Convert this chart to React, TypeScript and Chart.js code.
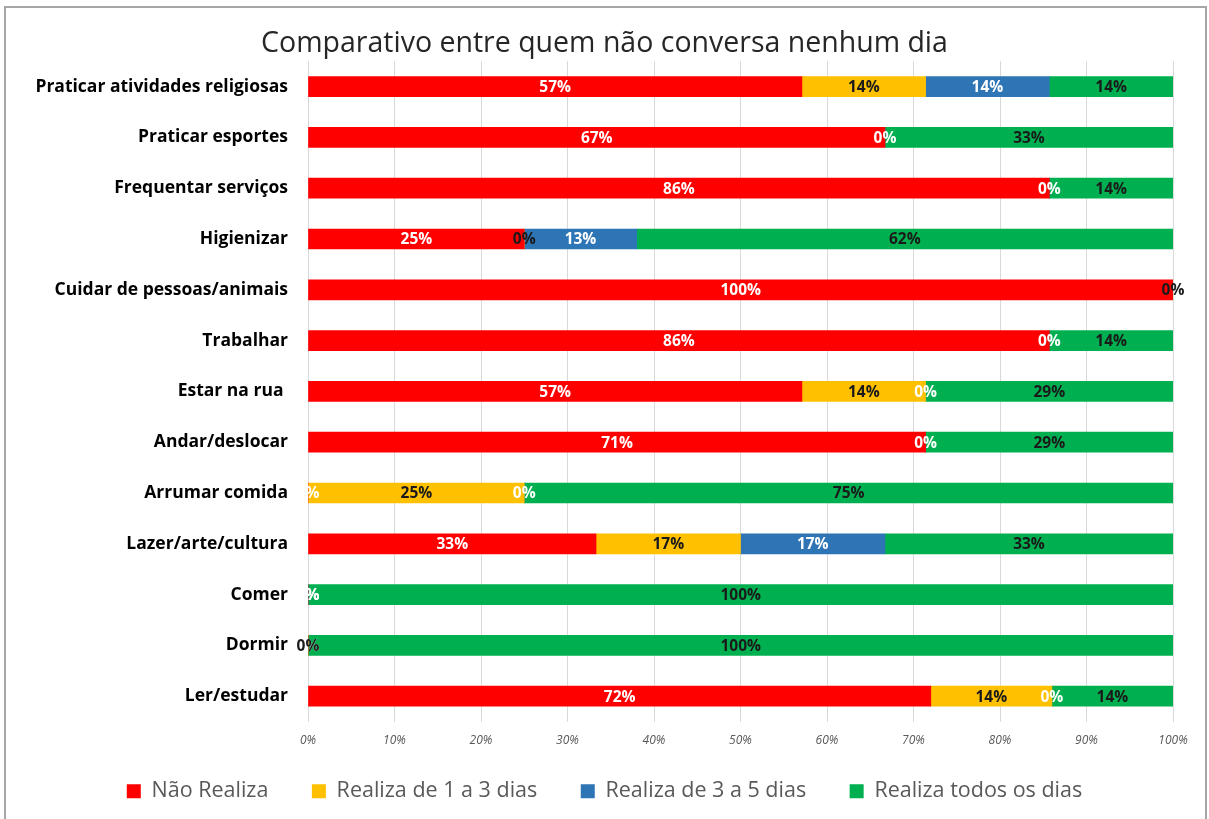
import React, { useEffect, useRef } from "react";
import { Chart, registerables } from "chart.js";

Chart.register(...registerables);

const titleText = "Comparativo entre quem não conversa nenhum dia";

const categories = [
  "Praticar atividades religiosas",
  "Praticar esportes",
  "Frequentar serviços",
  "Higienizar",
  "Cuidar de pessoas/animais",
  "Trabalhar",
  "Estar na rua ",
  "Andar/deslocar",
  "Arrumar comida",
  "Lazer/arte/cultura",
  "Comer",
  "Dormir",
  "Ler/estudar",
];

const seriesNames = [
  "Não Realiza",
  "Realiza de 1 a 3 dias",
  "Realiza de 3 a 5 dias",
  "Realiza todos os dias",
];

const naoRealiza = [57.1, 66.7, 85.7, 25, 100, 85.7, 57.1, 71.4, 0, 33.3, 0, 0, 72];
const realiza1a3 = [14.3, null, null, 0, null, null, 14.3, null, 25, 16.7, null, 0, 14];
const realiza3a5 = [14.3, 0, 0, 13, null, 0, 0, 0, 0, 16.7, 0, null, 0];
const realizaTodos = [14.3, 33.3, 14.3, 62, 0, 14.3, 28.6, 28.6, 75, 33.3, 100, 100, 14];

const xTicks = [0, 10, 20, 30, 40, 50, 60, 70, 80, 90, 100];

const seriesColors = ["#FF0000", "#FFC000", "#2E75B6", "#00B050"];
const labelColors = ["#FFFFFF", "#1A1A1A", "#FFFFFF", "#1A1A1A"];

const FONT = "'Open Sans', Lato, sans-serif";

const dataLabelPlugin = {
  id: "dataLabels",
  afterDatasetsDraw(chart: any) {
    const ctx = chart.ctx;
    ctx.save();
    ctx.font = `bold 15.5px ${FONT}`;
    ctx.textAlign = "center";
    ctx.textBaseline = "middle";
    chart.data.datasets.forEach((ds: any, di: number) => {
      const meta = chart.getDatasetMeta(di);
      meta.data.forEach((bar: any, i: number) => {
        const v = ds.data[i];
        if (v === null || v === undefined) return;
        const cx = (bar.x + bar.base) / 2;
        ctx.fillStyle = labelColors[di];
        ctx.fillText(Math.round(v) + "%", cx, bar.y + 1);
      });
    });
    ctx.restore();
  },
};

export default function App() {
  const canvasRef = useRef<HTMLCanvasElement | null>(null);

  useEffect(() => {
    if (!canvasRef.current) return;
    const allSeries = [naoRealiza, realiza1a3, realiza3a5, realizaTodos];
    const chart = new Chart(canvasRef.current, {
      type: "bar",
      data: {
        labels: categories,
        datasets: allSeries.map((d, i) => ({
          label: seriesNames[i],
          data: d as any,
          backgroundColor: seriesColors[i],
          borderWidth: 0,
          barThickness: 20,
        })),
      },
      options: {
        indexAxis: "y",
        responsive: false,
        animation: false,
        layout: { padding: { left: 36, right: 36, top: 0, bottom: 7 } },
        scales: {
          x: {
            stacked: true,
            min: 0,
            max: 100,
            afterBuildTicks: (scale: any) => {
              scale.ticks = xTicks.map((v) => ({ value: v }));
            },
            afterFit: (scale: any) => {
              scale.height = 48.9;
            },
            ticks: {
              callback: (v: any) => v + "%",
              font: { family: FONT, size: 12, style: "italic" },
              color: "#595959",
              padding: 12,
              maxRotation: 0,
            },
            grid: { color: "#D9D9D9", drawTicks: false },
            border: { display: false },
          },
          y: {
            stacked: true,
            afterFit: (scale: any) => {
              scale.width = 272;
            },
            ticks: {
              font: { family: FONT, size: 17.5, weight: "bold" },
              color: "#000000",
              padding: 20,
            },
            grid: { display: false, drawTicks: false },
            border: { display: false },
          },
        },
        plugins: {
          title: {
            display: true,
            text: titleText,
            font: { family: FONT, size: 28.5, weight: "normal" },
            color: "#262626",
            padding: { top: 27, bottom: 0 },
          },
          legend: {
            display: true,
            position: "bottom",
            labels: {
              boxWidth: 14,
              boxHeight: 14,
              padding: 10,
              color: "#595959",
              font: { family: FONT, size: 21.5 },
              generateLabels: (c: any) => {
                const base = Chart.defaults.plugins.legend.labels.generateLabels(c);
                return base.map((item: any, i: number) => ({
                  ...item,
                  text: i < base.length - 1 ? item.text + "      " : item.text,
                  lineWidth: 0,
                  strokeStyle: "transparent",
                }));
              },
            },
          },
          tooltip: { enabled: false },
        },
      },
      plugins: [dataLabelPlugin],
    } as any);
    return () => chart.destroy();
  }, []);

  return (
    <div style={{ position: "fixed", left: 0, top: 0, width: 1209, height: 819, background: "#FFFFFF" }}>
      <canvas ref={canvasRef} width={1209} height={819} style={{ position: "absolute", left: 0, top: 0 }} />
      <div
        style={{
          position: "absolute",
          left: 4,
          top: 6,
          width: 1199,
          height: 840,
          borderLeft: "2px solid #A6A6A6",
          borderTop: "2px solid #A6A6A6",
          borderRight: "2px solid #A6A6A6",
          pointerEvents: "none",
        }}
      />
    </div>
  );
}
